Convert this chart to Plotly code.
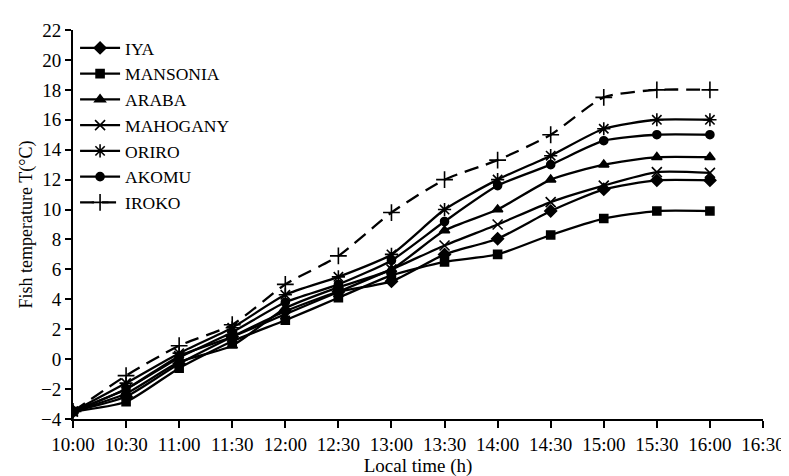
import plotly.graph_objects as go

times = [10.0, 10.5, 11.0, 11.5, 12.0, 12.5, 13.0, 13.5, 14.0, 14.5, 15.0, 15.5, 16.0]
tick_vals = [10.0, 10.5, 11.0, 11.5, 12.0, 12.5, 13.0, 13.5, 14.0, 14.5, 15.0, 15.5, 16.0, 16.5]
tick_text = ["10:00", "10:30", "11:00", "11:30", "12:00", "12:30", "13:00", "13:30",
             "14:00", "14:30", "15:00", "15:30", "16:00", "16:30"]

iya = [-3.5, -2.5, -0.3, 1.5, 3.2, 4.5, 5.2, 7.0, 8.05, 9.9, 11.35, 11.95, 11.95]
mansonia = [-3.5, -2.85, -0.6, 1.2, 2.6, 4.1, 5.6, 6.5, 7.0, 8.3, 9.4, 9.9, 9.9]
araba = [-3.5, -2.3, -0.2, 0.9, 3.4, 4.8, 6.0, 8.6, 10.0, 12.0, 13.0, 13.5, 13.5]
mahogany = [-3.5, -2.0, 0.2, 1.5, 3.0, 4.5, 6.0, 7.6, 9.0, 10.5, 11.6, 12.5, 12.45]
oriro = [-3.5, -1.6, 0.4, 2.1, 4.3, 5.5, 7.0, 10.0, 12.0, 13.6, 15.4, 16.0, 16.0]
akomu = [-3.5, -2.0, 0.1, 1.8, 3.8, 5.0, 6.6, 9.2, 11.6, 13.0, 14.6, 15.0, 15.0]
iroko = [-3.5, -1.1, 0.9, 2.3, 5.0, 6.9, 9.8, 12.0, 13.3, 15.0, 17.5, 18.0, 18.0]

series = [
    ("IYA", iya, "diamond", 9, "solid"),
    ("MANSONIA", mansonia, "square", 8, "solid"),
    ("ARABA", araba, "triangle-up", 9, "solid"),
    ("MAHOGANY", mahogany, "x-thin-open", 10, "solid"),
    ("ORIRO", oriro, "asterisk-open", 11, "solid"),
    ("AKOMU", akomu, "circle", 8, "solid"),
    ("IROKO", iroko, "cross-thin-open", 12, "14px,8px"),
]

fig = go.Figure()
for name, vals, sym, size, dash in series:
    fig.add_trace(go.Scatter(
        x=times, y=vals, name=name, mode="lines+markers",
        line=dict(color="black", width=2.3, dash=dash, shape="spline", smoothing=0.6),
        marker=dict(symbol=sym, size=size, color="black",
                    line=dict(color="black", width=1.6)),
    ))

font_family = "Liberation Serif, Times New Roman, serif"
fig.update_layout(
    width=789, height=476,
    margin=dict(l=65, r=31, t=16, b=60),
    paper_bgcolor="white", plot_bgcolor="white",
    font=dict(family=font_family, size=19, color="black"),
    showlegend=True,
    legend=dict(x=0.003, y=1.0, xanchor="left", yanchor="top",
                font=dict(family=font_family, size=17.5, color="black"),
                bgcolor="rgba(0,0,0,0)", tracegroupgap=0, itemwidth=40),
    xaxis=dict(range=[10.0, 16.5], tickmode="array", tickvals=tick_vals, ticktext=tick_text,
               showline=True, linecolor="black", linewidth=2, ticks="outside",
               ticklen=7, tickwidth=2, tickcolor="black", showgrid=False, zeroline=False,
               tickfont=dict(size=19),
               title=dict(text="Local time (h)", font=dict(size=19), standoff=4)),
    yaxis=dict(range=[-4, 22], dtick=2, tick0=-4,
               showline=True, linecolor="black", linewidth=2, ticks="outside",
               ticklen=6, tickwidth=2, tickcolor="black", showgrid=False, zeroline=False,
               tickfont=dict(size=19),
               title=dict(text="Fish temperature T(°C)", font=dict(size=18), standoff=4)),
)

fig.write_html("out.html")
